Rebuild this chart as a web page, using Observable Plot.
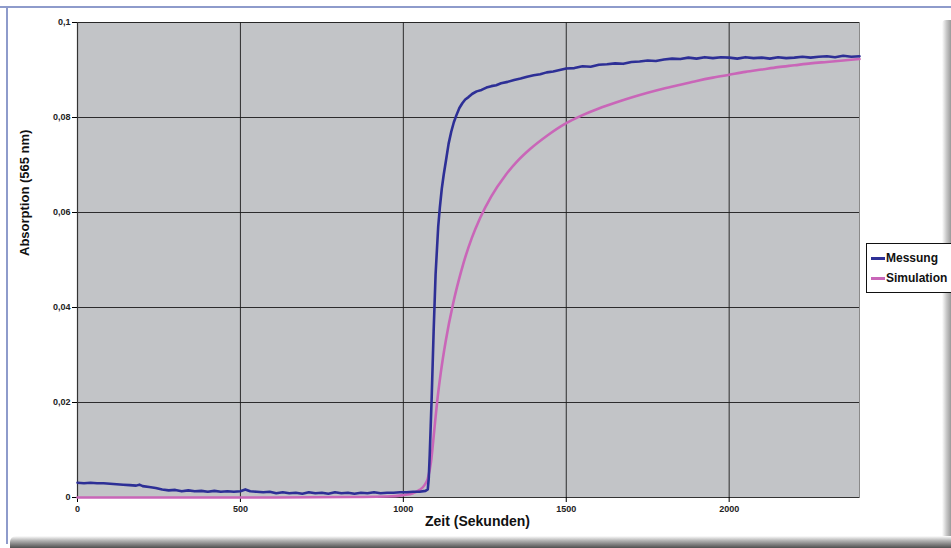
<!DOCTYPE html>
<html>
<head>
<meta charset="utf-8">
<script src="https://cdn.jsdelivr.net/npm/d3@7"></script>
<script src="https://cdn.jsdelivr.net/npm/@observablehq/plot@0.6"></script>
<style>
  html, body { margin: 0; padding: 0; background: #fff; width: 951px; height: 548px; overflow: hidden; }
  .deco { position: absolute; }
  #chart { position: absolute; left: 0; top: 0; }
  #chart svg { background: transparent; overflow: visible; }
  #legend { position: absolute; left: 866px; top: 243px; width: 86px; height: 50px; border: 1px solid #111; background: #fff;
            font-family: "Liberation Sans", Arial, sans-serif; font-weight: bold; font-size: 12px; color: #111; box-sizing: border-box; }
  .item { position: absolute; left: 0; height: 14px; line-height: 14px; white-space: nowrap; }
  .sw { position: absolute; left: 4px; top: 6px; width: 14px; height: 3px; }
  .lab { position: absolute; left: 19px; top: 0; }
</style>
</head>
<body>
<div class="deco" style="left:0;top:6px;width:951px;height:2px;background:#8e9bcb;"></div>
<div class="deco" style="left:6px;top:7px;width:2px;height:537px;background:#8e9bcb;"></div>
<div class="deco" style="left:942px;top:20px;width:9px;height:528px;background:linear-gradient(to right,#fff,#c8c8c8 50%,#9a9a9a);border-top-left-radius:4px;"></div>
<div class="deco" style="left:10px;top:536px;width:941px;height:12px;background:linear-gradient(to bottom,#fff,#b0b0b0 40%,#505050);border-top-left-radius:6px;"></div>
<div id="chart"></div>
<div id="legend">
  <div class="item" style="top:7px;"><div class="sw" style="background:#2d2f96;"></div><div class="lab">Messung</div></div>
  <div class="item" style="top:27px;"><div class="sw" style="background:#c966b8;"></div><div class="lab">Simulation</div></div>
</div>
<script>
// Messung (measured absorption)
const messungZeit = [0,20,40,60,80,100,120,140,160,180,190,200,220,240,260,280,300,320,340,360,380,400,420,440,460,480,500,515,530,550,570,590,610,630,650,670,690,710,730,750,770,790,810,830,850,870,890,910,930,950,970,990,1010,1030,1050,1068,1075,
  1078,1081,1084,1087,1090,1093,1096,1099,1103,1107,1112,1118,1124,1131,1139,1147,1155,1163,1172,1181,1190,1200,1212,1225,1240,1255,1270,1285,1300,1320,1340,1360,1380,1400,1420,1440,1460,1480,1500,1525,1550,1575,1600,1625,1650,1675,1700,1725,1750,1775,1800,1825,1850,1875,1900,1925,1950,1975,2000,2025,2050,2075,2100,2125,2150,2175,2200,2225,2250,2275,2300,2325,2350,2375,2400];
const messungWert = [0.0031,0.0030,0.0031,0.0030,0.0030,0.0029,0.0028,0.0027,0.0026,0.0025,0.0027,0.0024,0.0022,0.0020,0.0017,0.0015,0.0016,0.0013,0.0015,0.0013,0.0014,0.0012,0.0014,0.0012,0.0013,0.0012,0.0013,0.0017,0.0013,0.0012,0.0011,0.0012,0.0009,0.0011,0.0009,0.0010,0.0008,0.0011,0.0009,0.0010,0.0008,0.0011,0.0009,0.0010,0.0008,0.0010,0.0009,0.0011,0.0009,0.0010,0.0010,0.0011,0.0011,0.0012,0.0012,0.0014,0.0017,
  0.004,0.009,0.015,0.021,0.028,0.035,0.041,0.047,0.052,0.057,0.061,0.065,0.068,0.071,0.0745,0.0770,0.0790,0.0805,0.0820,0.0830,0.0838,0.0843,0.0850,0.0855,0.0858,0.0863,0.0866,0.0868,0.0872,0.0875,0.0879,0.0882,0.0886,0.0889,0.0891,0.0895,0.0897,0.0900,0.0903,0.0904,0.0908,0.0907,0.0911,0.0912,0.0914,0.0913,0.0917,0.0918,0.0920,0.0919,0.0922,0.0924,0.0923,0.0926,0.0924,0.0927,0.0925,0.0927,0.0926,0.0924,0.0927,0.0925,0.0926,0.0924,0.0927,0.0925,0.0926,0.0928,0.0926,0.0928,0.0929,0.0927,0.0930,0.0928,0.0929];

// Simulation
const simulationZeit = [0,300,600,850,950,1000,1030,1050,1065,1075,1085,1095,1104,1115,1130,1153,1170,1184,1210,1236,1270,1313,1350,1390,1440,1500,1550,1600,1650,1700,1750,1800,1850,1900,1950,2000,2050,2100,2150,2200,2250,2300,2350,2400];
const simulationWert = [0,0,0,0.0001,0.0002,0.0005,0.0009,0.0016,0.0026,0.0040,0.0075,0.0142,0.0203,0.0263,0.0329,0.0409,0.0457,0.0492,0.0546,0.0589,0.0634,0.0678,0.0708,0.0734,0.0761,0.0788,0.0805,0.0819,0.0831,0.0842,0.0852,0.0861,0.0869,0.0877,0.0884,0.0890,0.0896,0.0901,0.0906,0.0910,0.0914,0.0917,0.0920,0.0923];

const xTicks = [0, 500, 1000, 1500, 2000];
const yTicks = [0, 0.02, 0.04, 0.06, 0.08, 0.1];
const xLabel = "Zeit (Sekunden)";
const yLabel = "Absorption (565 nm)";

const messung = messungZeit.map((t, i) => ({t, v: messungWert[i]}));
const simulation = simulationZeit.map((t, i) => ({t, v: simulationWert[i]}));
const fmtY = d => d === 0 ? "0" : String(+d.toFixed(2)).replace(".", ",");
const fmtX = d => String(d);

const plot = Plot.plot({
  width: 951,
  height: 548,
  marginLeft: 77,
  marginRight: 92,
  marginTop: 22,
  marginBottom: 51,
  style: {background: "transparent", fontFamily: "'Liberation Sans', Arial, sans-serif"},
  x: {domain: [0, 2400], ticks: xTicks, label: null},
  y: {domain: [0, 0.1], ticks: yTicks, label: null},
  marks: [
    Plot.frame({fill: "#c2c4c7", stroke: "#8a8a8a"}),
    Plot.gridX(xTicks.slice(1), {stroke: "#1c1c1c", strokeOpacity: 0.9, strokeWidth: 1}),
    Plot.gridY(yTicks.slice(1), {stroke: "#1c1c1c", strokeOpacity: 0.9, strokeWidth: 1}),
    Plot.ruleX([0], {stroke: "#333", strokeWidth: 1.2}),
    Plot.ruleY([0], {stroke: "#333", strokeWidth: 1.2}),
    Plot.axisX({ticks: xTicks, tickSize: 5, tickPadding: 3, fontSize: 9, fontWeight: "bold", fill: "#222", tickFormat: fmtX, label: null}),
    Plot.axisY({ticks: yTicks, tickSize: 5, tickPadding: 2, fontSize: 9, fontWeight: "bold", fill: "#222", tickFormat: fmtY, label: null}),
    Plot.line(simulation, {x: "t", y: "v", stroke: "#c966b8", strokeWidth: 2.6, curve: "monotone-x"}),
    Plot.line(messung, {x: "t", y: "v", stroke: "#2d2f96", strokeWidth: 2.6}),
    Plot.text([xLabel], {frameAnchor: "bottom", dx: 9, dy: 28, fontSize: 14, fontWeight: "bold", fill: "#111"}),
    Plot.text([yLabel], {frameAnchor: "left", dx: -53, dy: -4, rotate: -90, fontSize: 13, fontWeight: "bold", fill: "#111"})
  ]
});
document.getElementById("chart").appendChild(plot);
</script>
</body>
</html>
